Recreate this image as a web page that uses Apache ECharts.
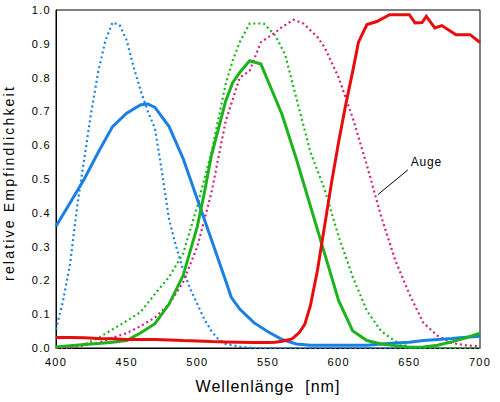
<!DOCTYPE html>
<html><head><meta charset="utf-8">
<script src="https://cdn.jsdelivr.net/npm/echarts@6/dist/echarts.min.js"></script>
<style>html,body{margin:0;padding:0;background:#fff}#c{width:500px;height:402px}</style>
</head><body><div id="c"></div>
<script>
// Blue solid
const blueX = [400,410,420,430,440,450,460,465,470,480,490,500,510,520,524,530,540,550,560,570,580,590,600,610,620,630,640,650,660,670,680,690,700];
const blueY = [0.36,0.43,0.50,0.58,0.655,0.695,0.72,0.722,0.712,0.655,0.56,0.44,0.32,0.20,0.15,0.115,0.075,0.048,0.025,0.012,0.008,0.008,0.008,0.008,0.008,0.012,0.015,0.017,0.022,0.025,0.028,0.032,0.035];
// Blue dotted
const blueDotX = [400,405,410,415,420,425,430,435,440,445,450,455,460,465,470,475,480,485,490,495,500,505,510,515,520,530,540,550,600,650,700];
const blueDotY = [0.055,0.14,0.25,0.42,0.56,0.70,0.82,0.91,0.963,0.955,0.91,0.83,0.76,0.70,0.65,0.52,0.38,0.30,0.23,0.175,0.13,0.085,0.05,0.025,0.012,0.004,0,0,0,0,0];
// Green solid
const greenX = [400,410,420,430,440,450,460,470,480,490,500,505,510,515,520,525,530,537,545,550,560,570,580,590,600,610,620,630,640,650,660,670,680,690,700];
const greenY = [0.003,0.007,0.01,0.013,0.017,0.022,0.045,0.072,0.13,0.215,0.36,0.46,0.57,0.65,0.73,0.785,0.815,0.85,0.84,0.79,0.69,0.56,0.42,0.28,0.14,0.05,0.022,0.012,0.007,0.002,0.003,0.008,0.018,0.03,0.044];
// Green dotted
const greenDotX = [400,410,420,430,440,450,460,470,480,490,500,510,520,525,530,537,547,555,562,570,580,590,600,610,620,630,640,650,660,680,700];
const greenDotY = [0,0.003,0.01,0.03,0.055,0.08,0.107,0.16,0.21,0.28,0.42,0.58,0.78,0.85,0.905,0.96,0.96,0.925,0.87,0.74,0.58,0.47,0.33,0.21,0.11,0.05,0.02,0.003,0,0,0];
// Magenta dotted
const magX = [400,410,420,430,440,450,460,470,480,490,500,510,520,530,537,545,555,560,568,575,585,590,600,610,620,630,640,650,660,670,680,690,700];
const magY = [0,0,0.008,0.016,0.03,0.044,0.065,0.09,0.13,0.195,0.30,0.46,0.67,0.80,0.82,0.905,0.933,0.95,0.971,0.96,0.92,0.89,0.80,0.68,0.54,0.39,0.26,0.16,0.074,0.036,0.015,0.008,0.005];
// Red solid
const redX = [400,410,420,430,440,450,460,470,480,490,500,510,520,530,540,550,555,560,567,572,576,580,585,590,595,600,605,610,614,620,627,636,645,650,654,659,662,668,673,683,693,700];
const redY = [0.031,0.031,0.03,0.028,0.027,0.025,0.025,0.025,0.024,0.022,0.021,0.019,0.018,0.017,0.016,0.016,0.017,0.02,0.027,0.045,0.07,0.125,0.23,0.36,0.49,0.61,0.72,0.82,0.905,0.957,0.966,0.986,0.986,0.986,0.962,0.963,0.981,0.947,0.954,0.927,0.927,0.904];
// Annotation
const annoText = 'Auge';
const annoLine = [[627.8,0.454],[649,0.527]];
const annoPos = [651,0.55];
const xTicks = [400,450,500,550,600,650,700];
const xName = 'Wellenlänge  [nm]';
const yName = 'relative Empfindlichkeit';

const zip = (xs, ys) => xs.map((x,i)=>[x, ys[i]]);
const font = 'Liberation Sans, Arial, sans-serif';
const BLUE='#1a80e4', GREEN='#1cb31c', RED='#e80c0c', MAG='#d4207c';

const chart = echarts.init(document.getElementById('c'), null, {renderer:'svg'});
const line = (name, xs, ys, color, width, dotted) => ({
  name, type:'line', data: zip(xs, ys), showSymbol:false, symbol:'none',
  lineStyle:{color, width, type: dotted ? [2,3] : 'solid', join:'miter'},
  silent:true, animation:false
});
const mag = line('mag', magX, magY, MAG, 2.2, true);
mag.markLine = {silent:true, symbol:['none','none'], animation:false,
  lineStyle:{color:'#000', width:1, type:'solid'}, label:{show:false},
  data:[[{coord:annoLine[0]},{coord:annoLine[1]}]]};
mag.markPoint = {silent:true, animation:false, symbol:'circle', symbolSize:0,
  data:[{coord:annoPos}],
  label:{show:true, position:'right', distance:0, formatter:annoText, color:'#000', fontSize:12, fontFamily:font}};

chart.setOption({
  animation:false,
  grid:{left:56, right:20, top:10, bottom:54, show:true, borderColor:'#000', borderWidth:1,
        backgroundColor:'transparent', outerBoundsMode:'none', containLabel:false},
  xAxis:{type:'value', min:400, max:700, interval:50,
    name:xName, nameLocation:'middle', nameGap:30,
    nameTextStyle:{fontSize:16, color:'#000', fontFamily:font},
    axisLine:{show:true, lineStyle:{color:'#000'}}, axisTick:{show:false}, splitLine:{show:false},
    axisLabel:{color:'#000', fontSize:11, fontFamily:font, margin:8,
      formatter: v => xTicks.includes(v) ? String(v) : ''}},
  yAxis:{type:'value', min:0, max:1, interval:0.1,
    name:yName, nameLocation:'middle', nameGap:40, nameRotate:90,
    nameTextStyle:{fontSize:14, color:'#000', fontFamily:font},
    axisLine:{show:true, lineStyle:{color:'#000'}}, axisTick:{show:false}, splitLine:{show:false},
    axisLabel:{color:'#000', fontSize:11, fontFamily:font, margin:5, formatter: v => v.toFixed(1)}},
  series:[
    line('blueDot', blueDotX, blueDotY, BLUE, 2.2, true),
    line('greenDot', greenDotX, greenDotY, GREEN, 2.2, true),
    mag,
    line('blue', blueX, blueY, BLUE, 3, false),
    line('green', greenX, greenY, GREEN, 3, false),
    line('red', redX, redY, RED, 3, false)
  ]
});
// widen letter spacing of texts to match the reference's wide typesetting
document.querySelectorAll('#c svg text').forEach(t => {
  const s = t.textContent;
  let ls = 1.3;
  if (s === yName) { ls = 2.2; t.setAttribute('dx', '-4'); }
  else if (s === xName) ls = 1;
  else if (s === annoText) ls = 0.8;
  t.setAttribute('letter-spacing', ls + 'px');
});
</script></body></html>
